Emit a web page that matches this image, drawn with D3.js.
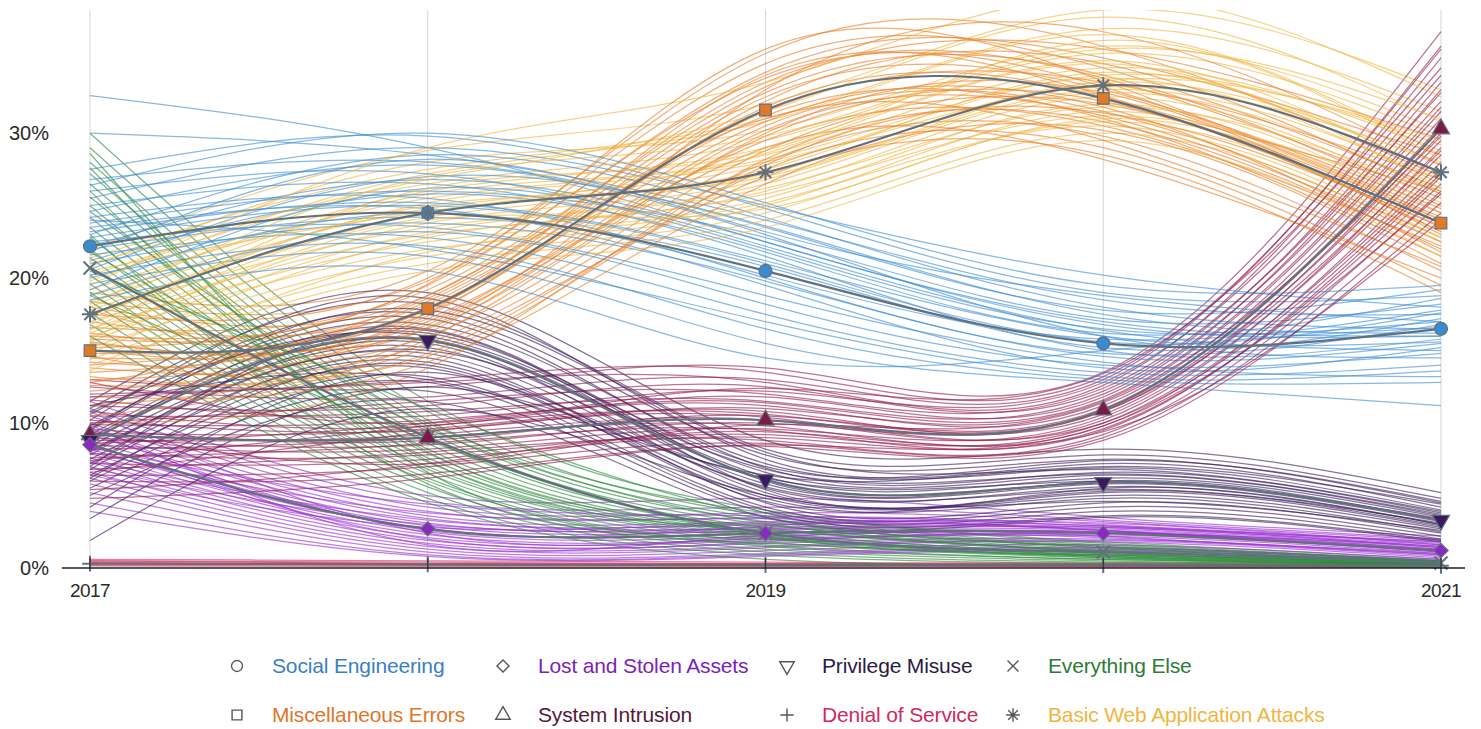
<!DOCTYPE html>
<html>
<head>
<meta charset="utf-8">
<script src="https://cdn.jsdelivr.net/npm/d3@7"></script>
<style>
  body { margin: 0; background: #fff; }
  svg { display: block; font-family: "Liberation Sans", Arial, sans-serif; }
</style>
</head>
<body>
<svg id="chart" width="1481" height="729"></svg>
<script>
// ---- axis values ----
const years = [2017, 2018, 2019, 2020, 2021];
const yearTickLabels = ["2017", "", "2019", "", "2021"];
const percentTicks = [0, 10, 20, 30];

const categories = [
  "Social Engineering", "Lost and Stolen Assets", "Privilege Misuse", "Everything Else",
  "Miscellaneous Errors", "System Intrusion", "Denial of Service", "Basic Web Application Attacks"
];

// ---- median share of breaches per pattern (%) by year ----
const socialEngineeringMedian = [22.2, 24.5, 20.5, 15.5, 16.5];
const lostStolenMedian        = [8.5, 2.7, 2.4, 2.4, 1.2];
const privilegeMisuseMedian   = [8.8, 15.7, 6.1, 5.9, 3.3];
const everythingElseMedian    = [20.7, 9.0, 2.4, 1.1, 0.35];
const miscErrorsMedian        = [15.0, 17.9, 31.6, 32.4, 23.8];
const systemIntrusionMedian   = [9.2, 9.0, 10.2, 10.9, 30.3];
const denialOfServiceMedian   = [0.3, 0.25, 0.2, 0.2, 0.15];
const basicWebMedian          = [17.5, 24.5, 27.3, 33.3, 27.3];

// ---- plausible outcome draws per pattern (%), one row per draw, one value per year ----
const socialEngineeringDraws = [
  [32.6, 29.0, 22.5, 17.0, 16.0], [30.0, 28.5, 24.0, 18.5, 17.5], [27.5, 29.8, 24.8, 19.0, 18.8],
  [26.8, 28.0, 23.5, 17.8, 19.2], [26.0, 27.2, 22.0, 16.5, 17.0], [25.5, 29.0, 25.0, 20.2, 18.0],
  [25.0, 26.5, 21.5, 15.0, 15.8], [24.6, 27.8, 23.0, 16.0, 14.5], [24.2, 25.5, 20.0, 14.8, 16.8],
  [23.8, 26.0, 22.8, 17.2, 18.2], [23.5, 24.8, 19.5, 13.8, 15.2], [23.0, 28.5, 24.2, 18.0, 16.5],
  [22.8, 25.0, 21.0, 15.6, 17.6], [22.5, 23.5, 18.8, 14.2, 13.2], [22.2, 26.8, 22.5, 16.8, 16.0],
  [22.0, 24.2, 20.8, 15.2, 17.2], [21.6, 22.8, 17.5, 13.5, 14.0], [21.2, 25.8, 21.8, 16.2, 18.6],
  [21.0, 23.8, 19.8, 14.6, 15.5], [20.6, 27.0, 23.6, 17.5, 16.2], [20.2, 22.2, 16.5, 13.0, 12.8],
  [20.0, 24.5, 20.2, 15.8, 17.8], [19.6, 21.5, 15.5, 12.8, 11.2], [19.2, 26.2, 22.2, 16.4, 15.0],
  [18.8, 23.2, 18.2, 14.0, 14.8], [18.5, 20.5, 14.5, 15.0, 16.6], [26.4, 30.0, 25.2, 19.5, 19.5],
  [24.0, 22.0, 17.0, 13.2, 13.6], [21.8, 28.2, 23.2, 18.8, 17.0], [23.2, 25.2, 21.2, 16.0, 15.6]
];
const lostStolenDraws = [
  [11.5, 5.0, 4.8, 3.5, 2.2], [11.0, 4.6, 4.2, 3.3, 2.0], [10.5, 4.2, 3.8, 3.2, 1.9],
  [10.0, 3.9, 3.5, 3.0, 1.8], [9.6, 3.6, 3.2, 2.9, 1.7], [9.2, 3.4, 3.0, 2.8, 1.6],
  [8.8, 3.1, 2.8, 2.7, 1.5], [8.5, 2.9, 2.6, 2.6, 1.4], [8.2, 2.7, 2.4, 2.5, 1.3],
  [7.9, 2.5, 2.2, 2.4, 1.2], [7.6, 2.3, 2.0, 2.3, 1.1], [7.3, 2.1, 1.9, 2.2, 1.0],
  [7.0, 1.9, 1.7, 2.0, 0.9], [6.6, 1.7, 1.5, 1.9, 0.8], [6.2, 1.5, 1.4, 1.8, 0.7],
  [5.8, 1.3, 1.2, 1.6, 0.6], [5.2, 1.1, 1.0, 1.4, 0.5], [4.5, 0.9, 0.9, 1.3, 0.4],
  [3.9, 0.8, 0.8, 1.2, 0.3], [9.4, 2.6, 2.9, 3.1, 1.6], [8.0, 3.8, 3.4, 2.6, 1.2],
  [10.8, 2.4, 2.1, 2.5, 1.3], [6.9, 3.0, 2.5, 2.1, 1.0], [8.6, 2.0, 1.8, 2.4, 1.5],
  [7.4, 3.3, 2.7, 2.8, 1.4], [9.9, 1.6, 2.3, 2.2, 0.9], [6.4, 2.8, 3.1, 2.6, 1.1],
  [8.3, 4.4, 3.6, 2.9, 1.8]
];
const privilegeMisuseDraws = [
  [11.5, 19.0, 8.8, 8.2, 5.2], [11.0, 18.2, 8.2, 7.8, 4.8], [10.6, 17.5, 7.8, 7.5, 4.5],
  [10.2, 18.6, 7.5, 7.2, 4.2], [9.8, 16.8, 7.2, 6.9, 4.0], [9.5, 17.2, 6.9, 6.6, 3.8],
  [9.2, 16.2, 6.6, 6.4, 3.6], [9.0, 15.8, 6.3, 6.2, 3.5], [8.7, 16.5, 6.0, 6.0, 3.3],
  [8.4, 15.2, 5.8, 5.8, 3.2], [8.1, 14.8, 5.5, 5.6, 3.0], [7.8, 15.5, 5.2, 5.3, 2.9],
  [7.5, 14.2, 5.0, 5.0, 2.7], [7.2, 13.8, 4.8, 4.8, 2.5], [6.8, 14.5, 4.5, 4.5, 2.4],
  [6.4, 13.2, 4.2, 4.2, 2.2], [6.0, 12.8, 4.0, 3.9, 2.0], [5.5, 12.2, 3.8, 3.6, 1.9],
  [5.0, 11.5, 3.5, 3.5, 1.8], [4.2, 13.5, 5.6, 5.4, 3.1], [3.4, 12.5, 6.2, 6.0, 3.4],
  [10.8, 16.0, 7.0, 7.4, 4.6], [9.6, 17.8, 8.0, 6.8, 3.9], [8.0, 15.0, 6.8, 6.5, 3.7],
  [7.0, 16.4, 5.4, 5.2, 2.8], [6.2, 14.0, 4.6, 5.5, 3.0], [11.2, 13.0, 6.4, 7.0, 4.4],
  [1.9, 11.0, 5.0, 4.6, 2.6]
];
const everythingElseDraws = [
  [30.0, 11.5, 4.0, 1.8, 0.6], [29.0, 10.8, 3.6, 1.6, 0.5], [28.0, 10.2, 3.4, 1.5, 0.5],
  [27.2, 9.8, 3.2, 1.4, 0.4], [26.5, 9.4, 3.0, 1.3, 0.4], [25.6, 9.0, 2.8, 1.2, 0.4],
  [25.0, 8.6, 2.7, 1.1, 0.3], [24.2, 8.2, 2.5, 1.0, 0.3], [23.5, 7.9, 2.4, 1.0, 0.3],
  [22.8, 7.6, 2.3, 0.9, 0.3], [22.0, 7.3, 2.2, 0.9, 0.2], [21.4, 7.0, 2.1, 0.8, 0.2],
  [20.8, 6.8, 2.0, 0.8, 0.2], [20.2, 6.5, 1.8, 0.7, 0.2], [19.6, 6.2, 1.6, 0.6, 0.2],
  [19.0, 6.0, 1.5, 0.6, 0.1], [18.4, 5.6, 1.3, 0.5, 0.1], [17.6, 5.2, 1.1, 0.4, 0.1],
  [16.8, 4.8, 0.9, 0.3, 0.1], [16.0, 4.5, 0.6, 0.2, 0.0], [27.6, 8.0, 2.9, 1.4, 0.4],
  [24.6, 10.0, 3.8, 1.7, 0.5], [21.8, 9.6, 3.1, 1.2, 0.3], [23.0, 5.8, 1.7, 0.7, 0.2],
  [26.0, 7.4, 2.6, 1.1, 0.3], [18.8, 8.8, 2.2, 0.9, 0.2], [20.5, 11.0, 3.5, 1.5, 0.4],
  [28.6, 6.6, 2.0, 0.8, 0.2]
];
const miscErrorsDraws = [
  [19.0, 20.5, 35.5, 36.0, 27.0], [18.4, 19.8, 34.2, 35.2, 28.5], [18.0, 18.8, 33.5, 33.8, 25.5],
  [17.5, 20.0, 34.8, 34.5, 26.2], [17.0, 18.2, 32.5, 33.0, 24.8], [16.6, 19.2, 33.2, 35.8, 29.6],
  [16.2, 17.6, 31.8, 32.5, 23.5], [15.8, 18.6, 32.8, 34.0, 25.0], [15.5, 17.0, 30.5, 31.5, 22.8],
  [15.2, 19.5, 33.8, 33.2, 24.2], [15.0, 16.5, 30.0, 32.8, 23.0], [14.8, 18.0, 31.2, 31.0, 21.5],
  [14.5, 17.2, 29.5, 30.5, 22.2], [14.2, 16.0, 28.8, 32.0, 24.0], [14.0, 18.4, 31.5, 33.5, 26.8],
  [13.8, 15.5, 28.0, 29.8, 20.5], [13.5, 17.8, 30.8, 31.8, 21.8], [13.2, 14.8, 27.5, 29.0, 19.5],
  [13.0, 16.8, 29.8, 32.2, 23.2], [12.6, 15.2, 27.0, 28.5, 19.0], [12.2, 17.4, 32.2, 34.8, 25.8],
  [11.8, 14.2, 26.5, 30.2, 21.0], [11.2, 16.2, 30.2, 31.2, 22.5], [10.5, 15.8, 29.0, 28.2, 20.0],
  [10.0, 13.8, 28.2, 30.8, 22.0], [17.8, 16.6, 33.0, 37.0, 27.8], [16.0, 19.6, 35.8, 33.6, 24.5],
  [12.8, 18.8, 31.0, 29.5, 20.8], [14.6, 14.6, 27.8, 31.4, 23.6], [15.6, 17.6, 34.0, 32.6, 26.0]
];
const systemIntrusionDraws = [
  [13.0, 12.5, 13.8, 13.5, 37.0], [12.5, 11.8, 13.0, 13.0, 36.0], [12.0, 12.8, 12.8, 12.6, 35.2],
  [11.6, 10.5, 12.2, 12.8, 34.0], [11.2, 11.2, 12.5, 12.2, 33.5], [10.8, 9.8, 11.8, 11.8, 33.0],
  [10.5, 10.8, 11.5, 12.0, 32.2], [10.2, 9.5, 11.0, 11.5, 31.5], [9.9, 10.2, 11.2, 11.2, 31.0],
  [9.6, 8.8, 10.5, 11.0, 30.5], [9.3, 9.6, 10.8, 10.6, 30.0], [9.0, 8.5, 10.0, 10.8, 29.5],
  [8.8, 9.2, 10.2, 10.2, 29.0], [8.5, 8.2, 9.6, 10.4, 28.5], [8.2, 9.0, 9.8, 9.8, 28.0],
  [7.9, 7.8, 9.2, 10.0, 27.5], [7.6, 8.6, 9.5, 9.5, 27.0], [7.2, 7.5, 9.0, 9.6, 26.5],
  [6.8, 8.0, 8.8, 9.2, 26.0], [6.4, 7.0, 8.6, 9.0, 25.2], [6.0, 6.5, 8.4, 8.8, 24.5],
  [5.4, 7.2, 9.4, 9.4, 24.0], [4.8, 6.2, 8.5, 9.8, 25.8], [11.8, 13.0, 13.5, 13.2, 35.8],
  [10.0, 11.5, 12.0, 12.4, 32.8], [8.6, 10.0, 11.4, 11.6, 31.8], [7.4, 9.8, 10.6, 10.8, 28.8],
  [9.4, 7.2, 9.9, 11.4, 29.8], [12.8, 10.0, 12.4, 13.4, 34.5], [6.6, 9.4, 10.4, 10.0, 27.2]
];
const denialOfServiceDraws = [
  [0.6, 0.5, 0.4, 0.3, 0.3], [0.5, 0.4, 0.3, 0.25, 0.2], [0.4, 0.3, 0.25, 0.2, 0.15],
  [0.3, 0.25, 0.2, 0.15, 0.1], [0.2, 0.2, 0.15, 0.1, 0.1], [0.15, 0.1, 0.1, 0.1, 0.05],
  [0.5, 0.3, 0.3, 0.35, 0.4], [0.35, 0.2, 0.2, 0.2, 0.25]
];
const basicWebDraws = [
  [22.0, 28.8, 32.0, 38.5, 33.0], [21.4, 27.5, 31.0, 37.2, 31.5], [20.8, 28.0, 30.2, 36.0, 30.2],
  [20.2, 26.5, 29.5, 35.5, 29.8], [19.8, 27.2, 30.8, 36.8, 28.5], [19.2, 25.5, 28.5, 34.5, 28.8],
  [18.8, 26.0, 29.0, 35.0, 27.0], [18.4, 24.8, 27.8, 34.0, 29.2], [18.0, 25.8, 28.2, 33.8, 26.5],
  [17.8, 24.2, 27.2, 33.5, 27.8], [17.5, 23.5, 26.5, 32.8, 26.0], [17.2, 25.2, 28.0, 33.2, 28.0],
  [17.0, 23.0, 26.0, 32.5, 25.2], [16.8, 24.5, 27.5, 34.2, 27.2], [16.5, 22.5, 25.5, 32.0, 24.5],
  [16.2, 23.8, 26.8, 33.0, 26.8], [16.0, 22.0, 25.0, 31.5, 24.0], [15.6, 23.2, 26.2, 31.8, 25.8],
  [15.2, 21.5, 24.5, 30.8, 23.2], [14.8, 22.8, 25.8, 31.2, 25.0], [14.4, 21.0, 24.0, 30.0, 22.5],
  [14.0, 20.5, 23.5, 29.5, 21.5], [13.6, 21.8, 25.2, 30.5, 22.8], [19.5, 29.0, 33.5, 39.5, 32.5],
  [21.0, 26.8, 31.5, 38.0, 30.8], [18.2, 27.0, 29.8, 35.8, 31.0], [15.8, 24.0, 24.8, 31.0, 23.8],
  [17.4, 25.0, 27.0, 33.6, 29.5], [20.5, 24.6, 28.6, 34.8, 26.2], [16.4, 26.2, 28.8, 36.4, 28.2]
];

// ---- styling per pattern (colours and marker shapes) ----
const style = {
  "Social Engineering":            { line: "#3d8ed3", fill: "#3a8ad0", text: "#3a80c5", symbol: "circle" },
  "Lost and Stolen Assets":        { line: "#9a2fd0", fill: "#8b27c4", text: "#7b23b5", symbol: "diamond" },
  "Privilege Misuse":              { line: "#3b1e5b", fill: "#3a1a5c", text: "#2b1b45", symbol: "triangleDown" },
  "Everything Else":               { line: "#2f8a3e", fill: "none",    text: "#2e7b35", symbol: "x" },
  "Miscellaneous Errors":          { line: "#e97f2a", fill: "#e07a28", text: "#e0762b", symbol: "square" },
  "System Intrusion":              { line: "#951f4f", fill: "#7a1b45", text: "#55183a", symbol: "triangle" },
  "Denial of Service":             { line: "#d92a5d", fill: "none",    text: "#d02a5c", symbol: "plus" },
  "Basic Web Application Attacks": { line: "#f4b640", fill: "none",    text: "#f0b53f", symbol: "asterisk" }
};

const seriesData = {
  "Social Engineering":            { median: socialEngineeringMedian, draws: socialEngineeringDraws },
  "Lost and Stolen Assets":        { median: lostStolenMedian,        draws: lostStolenDraws },
  "Privilege Misuse":              { median: privilegeMisuseMedian,   draws: privilegeMisuseDraws },
  "Everything Else":               { median: everythingElseMedian,    draws: everythingElseDraws },
  "Miscellaneous Errors":          { median: miscErrorsMedian,        draws: miscErrorsDraws },
  "System Intrusion":              { median: systemIntrusionMedian,   draws: systemIntrusionDraws },
  "Denial of Service":             { median: denialOfServiceMedian,   draws: denialOfServiceDraws },
  "Basic Web Application Attacks": { median: basicWebMedian,          draws: basicWebDraws }
};

// ---- layout ----
const svg = d3.select("#chart");
const x = d3.scaleLinear().domain([2017, 2021]).range([90, 1441]);
const y = d3.scaleLinear().domain([0, 38.5]).range([568, 10]);
const plotTop = y.range()[1], plotBottom = y.range()[0];

svg.append("defs").append("clipPath").attr("id", "plot-clip")
  .append("rect").attr("x", 0).attr("y", plotTop).attr("width", 1481).attr("height", plotBottom - plotTop);

// vertical year gridlines
svg.append("g").selectAll("line").data(years).join("line")
  .attr("x1", d => x(d)).attr("x2", d => x(d))
  .attr("y1", plotTop).attr("y2", plotBottom)
  .attr("stroke", "#d3d6da").attr("stroke-width", 1);

const line = d3.line().x((d, i) => x(years[i])).y(d => y(d)).curve(d3.curveNatural);

// outcome draws, interleaved across patterns so no colour sits entirely on top
const drawOrder = ["Basic Web Application Attacks", "Miscellaneous Errors", "Social Engineering",
  "Lost and Stolen Assets", "Privilege Misuse", "Everything Else", "System Intrusion", "Denial of Service"];
const maxDraws = d3.max(drawOrder, k => seriesData[k].draws.length);
const drawRows = [];
for (let i = 0; i < maxDraws; i++) {
  drawOrder.forEach(k => {
    const row = seriesData[k].draws[i];
    if (row) drawRows.push({ key: k, values: row });
  });
}
svg.append("g").attr("clip-path", "url(#plot-clip)")
  .selectAll("path").data(drawRows).join("path")
  .attr("d", d => line(d.values))
  .attr("fill", "none")
  .attr("stroke", d => style[d.key].line)
  .attr("stroke-width", 1.25)
  .attr("stroke-opacity", 0.62);

// median lines
const medianColor = "#62707c";
svg.append("g").attr("clip-path", "url(#plot-clip)")
  .selectAll("path").data(categories).join("path")
  .attr("d", k => line(seriesData[k].median))
  .attr("fill", "none")
  .attr("stroke", medianColor)
  .attr("stroke-width", 2.2);

// marker shapes
function symbolPath(kind, s) {
  const p = d3.path();
  switch (kind) {
    case "circle": return d3.symbol(d3.symbolCircle, s * s * 0.78)();
    case "square": return d3.symbol(d3.symbolSquare, s * s * 0.8)();
    case "diamond": {
      const h = s * 0.55;
      p.moveTo(0, -h); p.lineTo(h, 0); p.lineTo(0, h); p.lineTo(-h, 0); p.closePath();
      return p.toString();
    }
    case "triangle": return d3.symbol(d3.symbolTriangle, s * s * 0.75)();
    case "triangleDown": return d3.symbol(d3.symbolTriangle, s * s * 0.75)();
    case "x": {
      const h = s * 0.5;
      p.moveTo(-h, -h); p.lineTo(h, h); p.moveTo(-h, h); p.lineTo(h, -h);
      return p.toString();
    }
    case "plus": {
      const h = s * 0.6;
      p.moveTo(-h, 0); p.lineTo(h, 0); p.moveTo(0, -h); p.lineTo(0, h);
      return p.toString();
    }
    case "asterisk": {
      const h = s * 0.62;
      for (let a = 0; a < 4; a++) {
        const t = a * Math.PI / 4;
        p.moveTo(-h * Math.cos(t), -h * Math.sin(t));
        p.lineTo(h * Math.cos(t), h * Math.sin(t));
      }
      return p.toString();
    }
  }
}
const strokeOnly = k => ["x", "plus", "asterisk"].includes(style[k].symbol);

const markerOrder = ["Denial of Service", "Everything Else", "Social Engineering", "System Intrusion",
  "Privilege Misuse", "Lost and Stolen Assets", "Miscellaneous Errors", "Basic Web Application Attacks"];
const markerPts = [];
markerOrder.forEach(k => seriesData[k].median.forEach((v, i) => markerPts.push({ key: k, year: years[i], value: v })));
svg.append("g").selectAll("path").data(markerPts).join("path")
  .attr("transform", d => `translate(${x(d.year)},${y(d.value)})` + (style[d.key].symbol === "triangleDown" ? " rotate(180)" : ""))
  .attr("d", d => symbolPath(style[d.key].symbol, 13))
  .attr("fill", d => strokeOnly(d.key) ? "none" : style[d.key].fill)
  .attr("stroke", medianColor)
  .attr("stroke-width", d => strokeOnly(d.key) ? 2 : 1.2);

// x axis
const xAxis = svg.append("g");
xAxis.append("line").attr("x1", 62).attr("x2", 1465).attr("y1", plotBottom).attr("y2", plotBottom)
  .attr("stroke", "#1e1e1e").attr("stroke-width", 1.5);
xAxis.selectAll(".tick").data(years).join("line")
  .attr("x1", d => x(d)).attr("x2", d => x(d)).attr("y1", plotBottom - 10).attr("y2", plotBottom)
  .attr("stroke", "#333").attr("stroke-width", 1.2);
xAxis.selectAll("text").data(years).join("text")
  .attr("x", d => x(d)).attr("y", 597)
  .attr("text-anchor", "middle")
  .attr("font-size", 19).attr("letter-spacing", -0.6).attr("fill", "#2a2a2a")
  .text((d, i) => yearTickLabels[i]);

// y labels
svg.append("g").selectAll("text").data(percentTicks).join("text")
  .attr("x", 49).attr("y", d => y(d)).attr("dy", "0.35em")
  .attr("text-anchor", "end")
  .attr("font-size", 20).attr("fill", "#2a2a2a")
  .text(d => d3.format("d")(d) + "%");

// legend
const legendCols = [237, 503, 787, 1013];
const legendRows = [666, 715];
const legend = svg.append("g").selectAll("g").data(categories).join("g")
  .attr("transform", (d, i) => `translate(${legendCols[i % 4]},${legendRows[Math.floor(i / 4)]})`);
legend.append("path")
  .attr("transform", d => style[d].symbol === "triangleDown" ? "rotate(180)" : null)
  .attr("d", d => symbolPath(style[d].symbol, 11))
  .attr("fill", "none").attr("stroke", "#555").attr("stroke-width", 1.4);
legend.append("text")
  .attr("x", 35).attr("dy", "0.35em")
  .attr("font-size", 21).attr("letter-spacing", -0.15)
  .attr("fill", d => style[d].text)
  .text(d => d);
</script>
</body>
</html>
